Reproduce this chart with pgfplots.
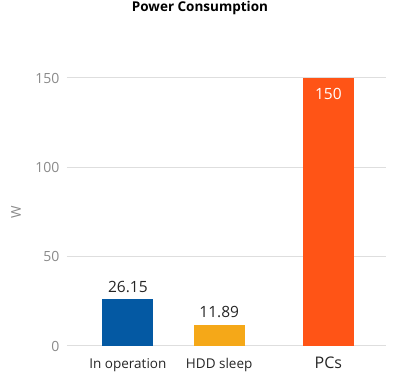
\documentclass[border=0pt]{standalone}
\usepackage{pgfplots}
\pgfplotsset{compat=1.18}
\usepackage{fontspec}
\setmainfont{Open Sans}
\definecolor{cblue}{HTML}{0459A3}
\definecolor{cyellow}{HTML}{F5A818}
\definecolor{corange}{HTML}{FF5416}
\definecolor{tickgray}{HTML}{8A8A8A}
\definecolor{gridgray}{HTML}{DEDEDE}
\definecolor{labeldark}{HTML}{252525}
\begin{document}
\begin{tikzpicture}[x=1pt,y=1pt]
\useasboundingbox (0,0) rectangle (400,372);
\node[font=\fontsize{13.5}{16}\selectfont\bfseries, text=black, anchor=center] at (200,364) {Power Consumption};
\begin{axis}[
  at={(67pt,26pt)}, anchor=south west,
  scale only axis, width=319pt, height=268pt,
  xmin=-0.667, xmax=2.827,
  ymin=0, ymax=150,
  ytick={0,50,100,150},
  xtick={0,1,2.196},
  xticklabels={{In operation},{HDD sleep},{\fontsize{16}{18}\selectfont PCs}},
  axis line style={draw=none},
  tick style={draw=none},
  ymajorgrids,
  grid style={draw=gridgray, line width=1pt},
  /pgf/number format/assume math mode=true,
  yticklabel style={font=\fontsize{14}{16}\selectfont, text=tickgray, xshift=-4pt},
  xticklabel style={font=\fontsize{13.5}{16}\selectfont, text=labeldark, text height=11pt, yshift=-4pt},
  ylabel={W},
  ylabel style={font=\fontsize{13.5}{16}\selectfont, text=tickgray, at={(axis description cs:-0.16,0.5)}, anchor=center},
  ybar, bar width=51pt, bar shift=0pt,
  nodes near coords={\pgfmathprintnumber[fixed,precision=2]{\pgfplotspointmeta}},
  every node near coord/.append style={font=\fontsize{15.5}{18}\selectfont, text=labeldark, yshift=3pt},
  clip=false,
]
\addplot[fill=cblue, draw=none] coordinates {(0,26.15)};
\addplot[fill=cyellow, draw=none] coordinates {(1,11.89)};
\addplot[fill=corange, draw=none, every node near coord/.append style={anchor=north, text=white, yshift=-10pt}] coordinates {(2.196,150)};
\end{axis}
\end{tikzpicture}
\end{document}
